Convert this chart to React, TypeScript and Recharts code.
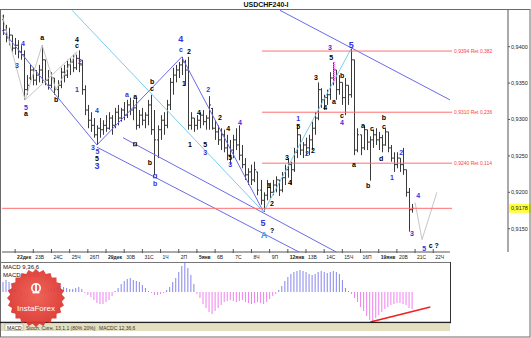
import React from "react";
import {
  ComposedChart,
  BarChart,
  Bar,
  XAxis,
  YAxis,
  ReferenceLine,
  ReferenceDot,
  Cell,
} from "recharts";

const FONT = '"Liberation Sans", "DejaVu Sans", Arial, sans-serif';

// ---------- data (4-hour USDCHF bars; quotes in pips = price x 10 000) ----------
const dayLabels = [
  "22дек", "23В", "24С", "25Ч", "26П",
  "29дек", "30В", "31С", "1Ч", "2П",
  "5янв", "6В", "7С", "8Ч", "9П",
  "12янв", "13В", "14С", "15Ч", "16П",
  "19янв", "20В", "21С", "22Ч",
];
const firstLabelledBar = 4;
const barsPerDay = 6;

const priceTicks = [0.915, 0.92, 0.925, 0.93, 0.935, 0.94];

const high = [
  9444, 9430, 9426, 9416, 9412, 9409,
  9402, 9395, 9361, 9375, 9371, 9368,
  9375, 9402, 9382, 9368, 9365, 9357,
  9354, 9371, 9375, 9382, 9384, 9389,
  9389, 9395, 9382, 9347, 9320, 9310,
  9302, 9292, 9302, 9299, 9306, 9310,
  9306, 9316, 9320, 9316, 9324, 9327,
  9330, 9327, 9330, 9313, 9316, 9310,
  9327, 9334, 9313, 9292, 9306, 9310,
  9327, 9357, 9371, 9375, 9379, 9386,
  9382, 9386, 9310, 9302, 9306, 9310,
  9313, 9306, 9332, 9316, 9299, 9292,
  9288, 9286, 9279, 9272, 9279, 9288,
  9292, 9265, 9247, 9233, 9238, 9242,
  9228, 9217, 9200, 9217, 9213, 9217,
  9222, 9217, 9228, 9238, 9247, 9242,
  9261, 9292, 9279, 9269, 9275, 9279,
  9297, 9310, 9351, 9343, 9334, 9341,
  9365, 9379, 9368, 9361, 9351, 9357,
  9347, 9398, 9382, 9288, 9279, 9292,
  9286, 9277, 9286, 9288, 9283, 9279,
  9288, 9283, 9265, 9255, 9255, 9247,
  9261, 9231, 9206, 9184,
];
const low = [
  9416, 9406, 9402, 9393, 9389, 9384,
  9382, 9327, 9334, 9354, 9347, 9347,
  9351, 9350, 9347, 9341, 9343, 9334,
  9330, 9343, 9351, 9357, 9361, 9365,
  9368, 9365, 9334, 9306, 9288, 9283,
  9275, 9265, 9275, 9279, 9283, 9286,
  9279, 9288, 9292, 9297, 9299, 9302,
  9306, 9299, 9286, 9288, 9292, 9288,
  9292, 9279, 9224, 9247, 9272, 9279,
  9288, 9313, 9334, 9351, 9357, 9361,
  9347, 9286, 9286, 9283, 9286, 9288,
  9292, 9286, 9286, 9286, 9272, 9265,
  9258, 9255, 9244, 9238, 9247, 9258,
  9244, 9233, 9217, 9210, 9210, 9214,
  9196, 9183, 9173, 9189, 9192, 9196,
  9200, 9195, 9200, 9210, 9220, 9210,
  9228, 9247, 9251, 9247, 9251, 9251,
  9258, 9279, 9299, 9316, 9313, 9320,
  9327, 9347, 9327, 9334, 9320, 9306,
  9320, 9330, 9251, 9255, 9251, 9258,
  9258, 9216, 9261, 9265, 9258, 9255,
  9264, 9255, 9242, 9228, 9233, 9228,
  9224, 9194, 9146, 9172,
];
const open = [
  9437, 9423, 9412, 9416, 9398, 9402,
  9393, 9389, 9341, 9357, 9368, 9354,
  9361, 9368, 9382, 9354, 9347, 9357,
  9341, 9347, 9365, 9361, 9375, 9379,
  9371, 9384, 9375, 9341, 9313, 9299,
  9292, 9279, 9288, 9286, 9292, 9288,
  9302, 9292, 9310, 9302, 9313, 9306,
  9320, 9313, 9316, 9292, 9306, 9299,
  9306, 9320, 9286, 9272, 9286, 9299,
  9292, 9320, 9351, 9361, 9368, 9375,
  9379, 9368, 9292, 9302, 9292, 9299,
  9306, 9297, 9302, 9315, 9288, 9283,
  9272, 9279, 9261, 9251, 9258, 9272,
  9265, 9251, 9238, 9224, 9228, 9217,
  9228, 9203, 9189, 9196, 9210, 9200,
  9210, 9217, 9203, 9220, 9231, 9238,
  9231, 9255, 9279, 9258, 9265, 9261,
  9272, 9288, 9302, 9341, 9327, 9330,
  9334, 9357, 9368, 9341, 9351, 9330,
  9347, 9334, 9382, 9258, 9279, 9261,
  9286, 9269, 9272, 9279, 9272, 9275,
  9265, 9283, 9261, 9247, 9238, 9247,
  9238, 9231, 9200, 9176,
];
const close = [
  9423, 9412, 9416, 9398, 9402, 9393,
  9389, 9341, 9347, 9368, 9354, 9361,
  9368, 9382, 9354, 9347, 9357, 9341,
  9347, 9365, 9361, 9375, 9379, 9371,
  9384, 9375, 9341, 9313, 9299, 9292,
  9279, 9288, 9286, 9292, 9288, 9302,
  9292, 9310, 9302, 9313, 9306, 9320,
  9313, 9316, 9292, 9306, 9299, 9306,
  9320, 9286, 9272, 9286, 9299, 9292,
  9320, 9351, 9361, 9368, 9375, 9379,
  9368, 9292, 9302, 9292, 9299, 9306,
  9297, 9302, 9320, 9288, 9283, 9272,
  9279, 9261, 9251, 9258, 9272, 9265,
  9251, 9238, 9224, 9228, 9217, 9231,
  9203, 9189, 9196, 9210, 9200, 9210,
  9217, 9203, 9220, 9231, 9238, 9231,
  9255, 9279, 9258, 9265, 9261, 9272,
  9288, 9302, 9341, 9327, 9330, 9334,
  9357, 9368, 9341, 9351, 9330, 9347,
  9334, 9382, 9258, 9279, 9261, 9286,
  9269, 9272, 9279, 9272, 9275, 9265,
  9283, 9261, 9247, 9238, 9247, 9238,
  9231, 9200, 9176, 9178,
];
// MACD(9,36,6) histogram, in pips
const macdPips = [
  10, 12, 10, 6, 3, 1,
  -4, -6, -7, -8, -8, -6,
  -4, -2, 1, 3, 4, 4,
  5, 6, 5, 4, 3, 3,
  4, 5, 3, -1, -3, -5,
  -8, -11, -12, -12, -10, -8,
  -4, 1, 4, 8, 11, 13,
  14, 12, 11, 10, 7, 4,
  1, -1, -3, -3, -2, -1,
  2, 5, 10, 14, 20, 26,
  29, 24, 17, 8, -2, -6,
  -12, -16, -20, -22, -19, -16,
  -13, -10, -9, -8, -9, -10,
  -9, -8, -10, -11, -12, -11,
  -10, -11, -12, -10, -7, -4,
  -2, 2, 6, 11, 15, 18,
  20, 21, 22, 21, 20, 18,
  17, 18, 20, 21, 20, 19,
  20, 21, 20, 18, 12, 4,
  1, -2, -6, -10, -15, -19,
  -24, -28, -29, -26, -23, -20,
  -17, -15, -13, -12, -11, -11,
  -12, -13, -16, -17,
];

const currentPrice = 0.9178;
const retracements = [
  { price: 0.9394, text: "0,9394 Ret 0,382" },
  { price: 0.931, text: "0,9310 Ret 0,236" },
  { price: 0.924, text: "0,9240 Ret 0,114" },
];

// ---------- annotations in data space (bar index, price) ----------
type Seg = { a: [number, number]; b: [number, number]; kind: string };
const trendLines: Seg[] = [
  { a: [-0.33, 0.9423], b: [31, 0.9265], kind: "blue" },
  { a: [31, 0.9265], b: [59, 0.9386], kind: "blue" },
  { a: [59, 0.9386], b: [86, 0.9173], kind: "blue" },
  { a: [31, 0.9262], b: [97.7, 0.9118], kind: "blue" },
  { a: [39.6, 0.9275], b: [110, 0.9118], kind: "blue" },
  { a: [91.4, 0.945], b: [147.5, 0.9327], kind: "blue" },
  { a: [22.8, 0.945], b: [86, 0.9173], kind: "cyan" },
  { a: [86, 0.9173], b: [115, 0.9398], kind: "cyan" },
  { a: [-0.3, 0.9444], b: [7.3, 0.9327], kind: "gray" },
  { a: [7.3, 0.9327], b: [12.9, 0.9402], kind: "gray" },
  { a: [7.3, 0.9327], b: [24.4, 0.9393], kind: "gray" },
  { a: [12.9, 0.9402], b: [17.5, 0.9341], kind: "gray" },
  { a: [17.5, 0.9341], b: [24.4, 0.9393], kind: "gray" },
  { a: [136, 0.9186], b: [138.3, 0.9135], kind: "gray" },
  { a: [138.3, 0.9135], b: [143.2, 0.92], kind: "gray" },
];
const retStart = 85.5;
const retEnd = 148.2;

type Wave = [string, number, number, string, number?];
const waveLabels: Wave[] = [
  ["3", 4.6, 0.9374, "b"], ["4", 6.6, 0.9405, "b"], ["5", 7.6, 0.9317, "b"], ["a", 7.6, 0.9308, "k"],
  ["a", 12.9, 0.9413, "k"], ["b", 17.5, 0.9328, "k"], ["4", 24.4, 0.941, "k"], ["c", 24.4, 0.9401, "k"],
  ["2", 25.4, 0.938, "b"], ["1", 24.4, 0.9341, "b"], ["4", 31, 0.9312, "b"],
  ["3", 29.7, 0.9261, "b"], ["5", 31.2, 0.9256, "b"], ["5", 31, 0.9246, "k"], ["3", 31, 0.9236, "b", 9],
  ["a", 40.9, 0.9335, "b"], ["a", 43.6, 0.9331, "k"], ["b", 49.2, 0.9352, "k"], ["c", 49.2, 0.9342, "k"],
  ["b", 48.5, 0.9241, "k"], ["b", 50.2, 0.9212, "b"],
  ["4", 58.7, 0.941, "b", 9], ["c", 58.7, 0.9396, "b"], ["2", 61.4, 0.9394, "k"], ["1", 59.7, 0.935, "k"],
  ["2", 67.7, 0.9341, "b"], ["4", 64.7, 0.931, "k"], ["2", 71.6, 0.9303, "k"], ["4", 78.2, 0.9296, "b"],
  ["1", 61.7, 0.9266, "k"], ["5", 66.7, 0.9265, "k"], ["3", 66.7, 0.9254, "b"],
  ["4", 74.3, 0.9288, "k"], ["5", 75, 0.9248, "k"], ["3", 75, 0.9238, "b"],
  ["5", 85.8, 0.9158, "b", 9], ["A", 86.1, 0.9142, "c", 9], ["?", 88.8, 0.9148, "k"],
  ["1", 87.8, 0.921, "k"], ["2", 88.8, 0.9185, "k"], ["3", 93.7, 0.9248, "k"], ["4", 94.7, 0.9213, "k"],
  ["5", 97.4, 0.9291, "k"], ["1", 97.4, 0.9302, "b"], ["2", 100.3, 0.9253, "b"], ["2", 102.3, 0.9258, "k"],
  ["3", 103.3, 0.9357, "k"], ["4", 106.3, 0.9317, "k"], ["a", 109.2, 0.9325, "k"],
  ["3", 107.9, 0.9399, "b"], ["5", 108.3, 0.9385, "k"],
  ["b", 111.9, 0.9361, "k"], ["c", 111.9, 0.9305, "k"], ["4", 111.9, 0.9296, "b"],
  ["5", 114.9, 0.9403, "b", 9],
  ["a", 115.8, 0.9238, "k"], ["a", 118.8, 0.9292, "k"], ["c", 121.8, 0.9287, "k"],
  ["b", 125.7, 0.9303, "k"], ["c", 125.7, 0.9291, "k"], ["d", 124.8, 0.9247, "k"], ["b", 120.5, 0.9209, "k"],
  ["1", 128.4, 0.922, "b"], ["2", 131.4, 0.9254, "b"],
  ["3", 135, 0.9143, "b"], ["4", 137, 0.9195, "b"], ["5", 139, 0.9123, "b"], ["c ?", 142.2, 0.9127, "k"],
];

// ---------- layout constants ----------
const X_MIN = -0.33;
const X_MAX = 166.67;
const MACD_X_MAX = 147.5;
const Y_MIN = 0.9118;
const Y_MAX = 0.94504;

const COLORS: Record<string, string> = {
  blue: "#6a6ae8",
  cyan: "#7ccbef",
  gray: "#c6c6c6",
  b: "#3434dc",
  k: "#000000",
  c: "#2da6d6",
};

const rows = high.map((h, i) => ({
  i,
  range: [low[i] / 1e4, h / 1e4],
  h: h / 1e4,
  l: low[i] / 1e4,
  o: open[i] / 1e4,
  c: close[i] / 1e4,
  macd: macdPips[i],
}));
const dayTicks = dayLabels.map((_, k) => firstLabelledBar + barsPerDay * k);

const OhlcShape = (props: any) => {
  const { x, y, width, height, payload } = props;
  if (x == null || y == null || height == null) return null;
  const top = Math.min(y, y + height);
  const bot = Math.max(y, y + height);
  const cx = Math.round(x + width / 2) + 0.5;
  const span = payload.h - payload.l || 1e-9;
  const yOf = (v: number) => top + ((payload.h - v) / span) * (bot - top);
  return (
    <g stroke="#3a3a3a" strokeWidth={1}>
      <line x1={cx} x2={cx} y1={top} y2={bot} />
      <line x1={cx - 1.5} x2={cx} y1={yOf(payload.o)} y2={yOf(payload.o)} />
      <line x1={cx} x2={cx + 1.5} y1={yOf(payload.c)} y2={yOf(payload.c)} />
    </g>
  );
};

const DayTick = (props: any) => {
  const { x, y, index } = props;
  const bold = index % 5 === 0;
  return (
    <g>
      <line x1={x} x2={x} y1={y - 3} y2={y + 1} stroke="#555" />
      <text
        x={x + 2}
        y={y + 7}
        fontSize={5}
        fontFamily={FONT}
        fontWeight={bold ? 700 : 400}
        fill="#222"
      >
        {dayLabels[index]}
      </text>
    </g>
  );
};

const priceFmt = (v: number) => v.toFixed(4).replace(".", ",");

const Starburst = () => {
  const cx = 36;
  const cy = 298;
  const pts: string[] = [];
  const n = 48;
  for (let k = 0; k < n; k++) {
    const r = k % 2 === 0 ? 29 : 26;
    const a = (Math.PI * 2 * k) / n;
    pts.push(`${(cx + r * Math.cos(a)).toFixed(1)},${(cy + r * Math.sin(a)).toFixed(1)}`);
  }
  return (
    <g opacity={0.93}>
      <defs>
        <radialGradient id="lg" cx="50%" cy="45%" r="55%">
          <stop offset="0%" stopColor="#f0594b" />
          <stop offset="100%" stopColor="#d9322c" />
        </radialGradient>
      </defs>
      <polygon points={pts.join(" ")} fill="url(#lg)" />
      <circle cx={cx} cy={288} r={4.2} fill="none" stroke="#fff" strokeWidth={1.6} />
      <rect x={cx - 0.9} y={284} width={1.8} height={9} fill="#fff" />
      <rect x={cx - 3.5} y={292} width={7} height={1.4} fill="#fff" />
      <text
        x={cx}
        y={311}
        textAnchor="middle"
        fontSize={8}
        fontFamily={FONT}
        fill="#fff"
      >
        InstaForex
      </text>
    </g>
  );
};

export default function App() {
  return (
    <div
      style={{
        position: "absolute",
        left: 0,
        top: 0,
        width: 531,
        height: 338,
        background: "#ffffff",
        overflow: "hidden",
        fontFamily: FONT,
      }}
    >
      {/* price panel */}
      <div style={{ position: "absolute", left: 0, top: 0 }}>
        <ComposedChart
          width={531}
          height={262}
          data={rows}
          margin={{ top: 10, right: 0, bottom: 0, left: 2 }}
        >
          <XAxis
            dataKey="i"
            type="number"
            domain={[X_MIN, X_MAX]}
            allowDataOverflow
            ticks={dayTicks}
            interval={0}
            height={10}
            axisLine={false}
            tickLine={false}
            tickSize={0}
            tickMargin={0}
            tick={<DayTick />}
          />
          <YAxis
            orientation="right"
            type="number"
            domain={[Y_MIN, Y_MAX]}
            allowDataOverflow
            ticks={priceTicks}
            width={23}
            axisLine={{ stroke: "#555" }}
            tickLine={{ stroke: "#555" }}
            tickSize={2}
            tickMargin={1}
            tickFormatter={priceFmt}
            tick={{ fontSize: 5.5, fill: "#222", fontFamily: FONT, textAnchor: "start" }}
          />
          {/* date axis line */}
          <ReferenceLine
            segment={[
              { x: X_MIN, y: Y_MIN },
              { x: MACD_X_MAX, y: Y_MIN },
            ]}
            stroke="#555"
            ifOverflow="visible"
          />
          {/* trend lines */}
          {trendLines.map((s, k) => (
            <ReferenceLine
              key={"t" + k}
              segment={[
                { x: s.a[0], y: s.a[1] },
                { x: s.b[0], y: s.b[1] },
              ]}
              stroke={COLORS[s.kind]}
              strokeWidth={1}
              ifOverflow="visible"
            />
          ))}
          {/* retracement levels */}
          {retracements.map((r, k) => (
            <ReferenceLine
              key={"r" + k}
              segment={[
                { x: retStart, y: r.price },
                { x: retEnd, y: r.price },
              ]}
              stroke="#ff6f6f"
              ifOverflow="visible"
            />
          ))}
          {retracements.map((r, k) => (
            <ReferenceDot
              key={"rl" + k}
              x={retEnd}
              y={r.price}
              ifOverflow="visible"
              shape={(p: any) => (
                <text
                  x={p.cx + 2}
                  y={p.cy + 1.8}
                  fontSize={5}
                  fontFamily={FONT}
                  fill="#ff4040"
                >
                  {r.text}
                </text>
              )}
            />
          ))}
          <ReferenceLine
            segment={[
              { x: X_MIN, y: currentPrice },
              { x: retEnd, y: currentPrice },
            ]}
            stroke="#ff6f6f"
            ifOverflow="visible"
          />
          {/* highlighted wave-3 bar */}
          <ReferenceLine
            segment={[
              { x: 109.3, y: 0.9379 },
              { x: 109.3, y: 0.9351 },
            ]}
            stroke="#f070f0"
            strokeWidth={2}
            strokeDasharray="1 1"
            ifOverflow="visible"
          />
          <Bar
            dataKey="range"
            barSize={3}
            shape={<OhlcShape />}
            isAnimationActive={false}
          />
          {/* small markers */}
          <ReferenceDot
            x={43.6}
            y={0.9266}
            ifOverflow="visible"
            shape={(p: any) => (
              <rect x={p.cx - 1.5} y={p.cy - 1.5} width={3} height={3} fill="none" stroke="#222" />
            )}
          />
          <ReferenceDot
            x={50.2}
            y={0.9222}
            ifOverflow="visible"
            shape={(p: any) => (
              <rect x={p.cx - 1.5} y={p.cy - 1.5} width={3} height={3} fill="none" stroke="#3434dc" />
            )}
          />
          {waveLabels.map((w, k) => (
            <ReferenceDot
              key={"w" + k}
              x={w[1]}
              y={w[2]}
              ifOverflow="visible"
              shape={(p: any) => (
                <text
                  x={p.cx}
                  y={p.cy}
                  textAnchor="middle"
                  dominantBaseline="central"
                  fontSize={w[4] || 7}
                  fontWeight={700}
                  fontFamily={FONT}
                  fill={COLORS[w[3]]}
                >
                  {w[0]}
                </text>
              )}
            />
          ))}
          {/* current price box on the axis */}
          <ReferenceDot
            x={X_MAX}
            y={currentPrice}
            ifOverflow="visible"
            shape={(p: any) => (
              <g>
                <rect x={p.cx + 1} y={p.cy - 4.5} width={22} height={9} fill="#ffff3c" />
                <text
                  x={p.cx + 3}
                  y={p.cy + 2}
                  fontSize={5.5}
                  fontFamily={FONT}
                  fill="#222"
                >
                  {priceFmt(currentPrice)}
                </text>
              </g>
            )}
          />
        </ComposedChart>
      </div>

      {/* MACD panel */}
      <div style={{ position: "absolute", left: 0, top: 262 }}>
        <BarChart
          width={451}
          height={60}
          data={rows}
          margin={{ top: 0, right: 1, bottom: 0, left: 2 }}
        >
          <XAxis dataKey="i" type="number" domain={[X_MIN, MACD_X_MAX]} allowDataOverflow hide />
          <YAxis type="number" domain={[-30, 30]} allowDataOverflow hide />
          <Bar dataKey="macd" barSize={1} isAnimationActive={false}>
            {rows.map((r, k) => (
              <Cell key={k} fill={r.macd >= 0 ? "#8585ee" : "#ef80ef"} />
            ))}
          </Bar>
          <ReferenceLine
            segment={[
              { x: 121.2, y: -30 },
              { x: 141, y: -15 },
            ]}
            stroke="#f02020"
            strokeWidth={1.6}
            ifOverflow="visible"
          />
        </BarChart>
      </div>

      {/* frame, title, panel decorations */}
      <svg
        width={531}
        height={338}
        style={{ position: "absolute", left: 0, top: 0, pointerEvents: "none" }}
      >
        <text
          x={266}
          y={7}
          textAnchor="middle"
          fontSize={7}
          fontWeight={700}
          fontFamily={FONT}
          fill="#111"
        >
          USDCHF240-I
        </text>
        <rect x={0.5} y={9.5} width={529.5} height={327.5} fill="none" stroke="#6a6a6a" />
        {/* MACD box */}
        <line x1={0} x2={450.5} y1={262.5} y2={262.5} stroke="#777" />
        <line x1={450.5} x2={450.5} y1={262} y2={323} stroke="#333" />
        <line x1={0} x2={451} y1={322.5} y2={322.5} stroke="#222" strokeWidth={1.5} />
        <text x={3} y={268.5} fontSize={6} fontFamily={FONT} fill="#111">
          MACD 9,36,6
        </text>
        <text x={3} y={276.5} fontSize={6} fontFamily={FONT} fill="#111">
          MACD = <tspan fill="#ee33ee">0,00</tspan>
        </text>
        {/* tab bar */}
        <rect x={1} y={323.5} width={449} height={7.5} fill="#e4e0bf" />
        <rect x={5} y={324} width={18} height={6.5} fill="#fbfbf4" stroke="#999" strokeWidth={0.5} />
        <text x={7} y={329.5} fontSize={5} fontFamily={FONT} fill="#222">
          MACD
        </text>
        <text x={26} y={329.5} fontSize={5} fontFamily={FONT} fill="#333">
          Stoch. Сигн. 13,1,1 (80% 20%)
        </text>
        <text x={99} y={329.5} fontSize={5} fontFamily={FONT} fill="#333">
          MACDC 12,36,6
        </text>
        <Starburst />
      </svg>
    </div>
  );
}
